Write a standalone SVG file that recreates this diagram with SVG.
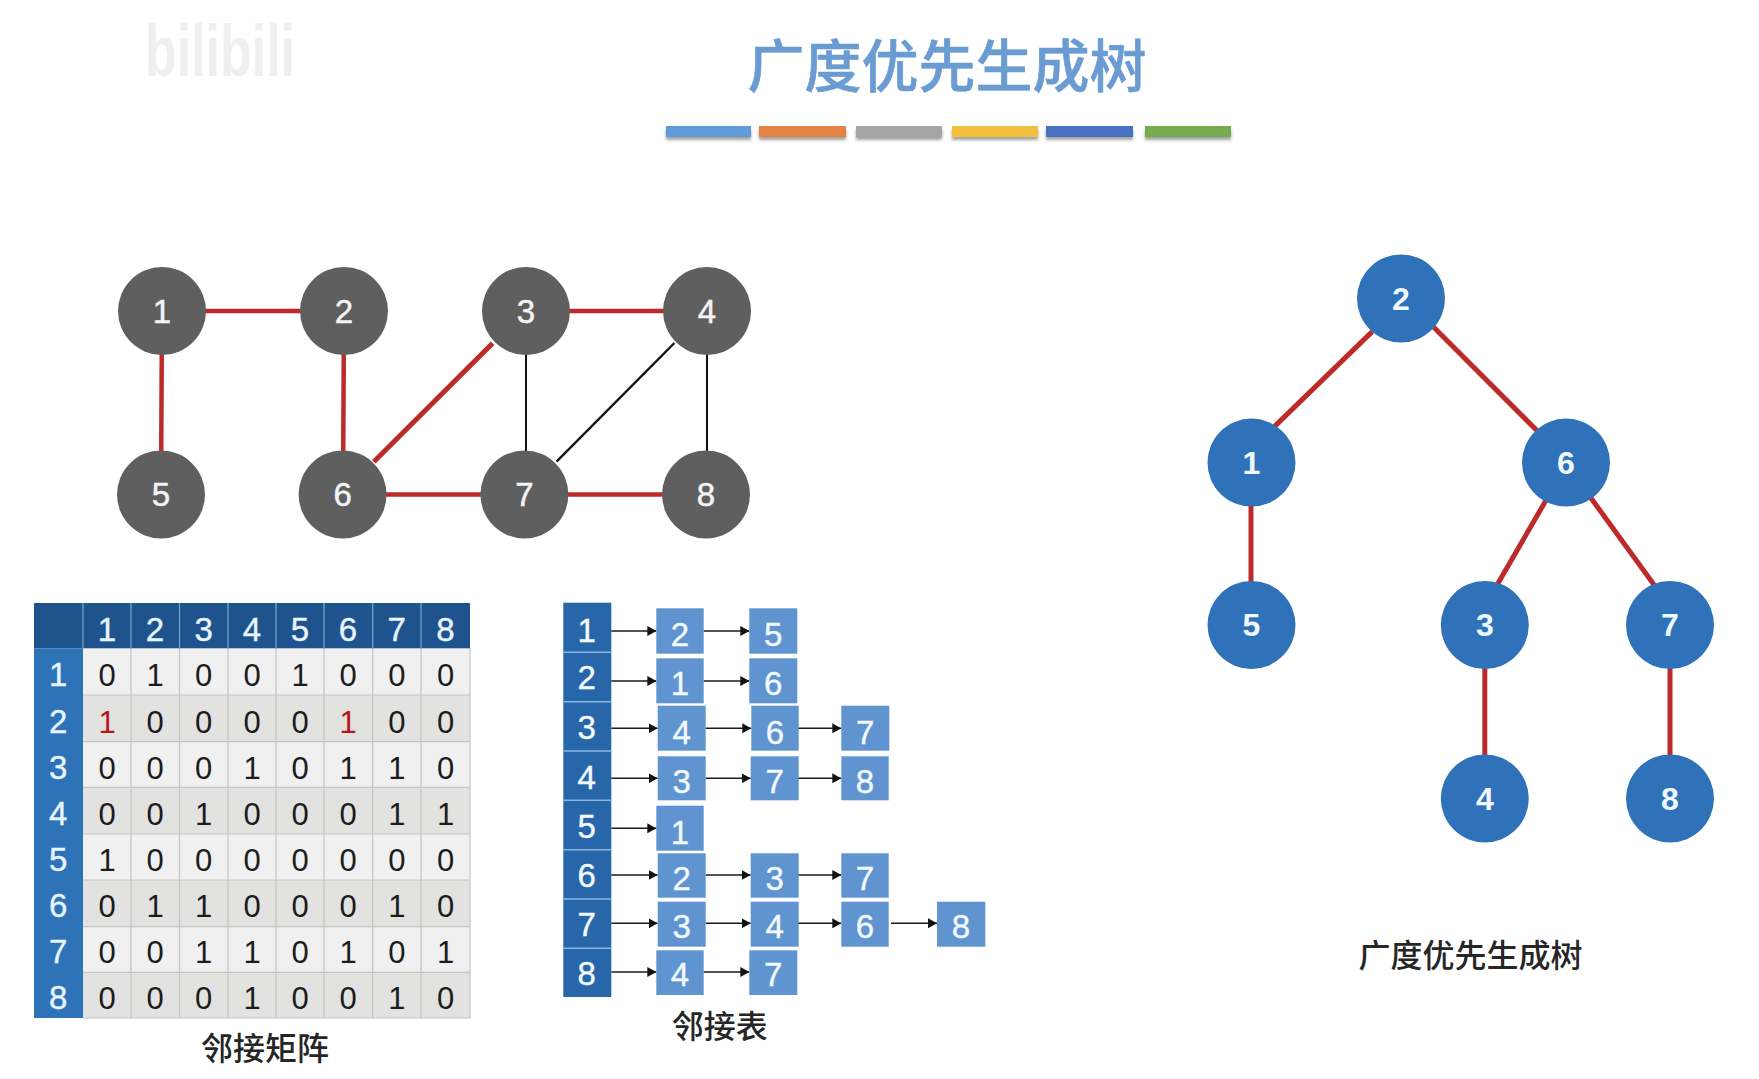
<svg xmlns="http://www.w3.org/2000/svg" width="1759" height="1079" viewBox="0 0 1759 1079">
<style>
text{font-family:"Liberation Sans",Arial,sans-serif;text-anchor:middle}
.cjk{font-family:"Noto Sans CJK SC","Liberation Sans",sans-serif;fill:#262626;font-size:32px;font-weight:500}
.title{font-family:"Noto Sans CJK SC","Liberation Sans",sans-serif;font-size:57px;font-weight:500;fill:#6a9bd2;stroke:#6a9bd2;stroke-width:.6}
.wm{font-size:72px;font-weight:700;fill:#efefef}
.red{stroke:#bd2a2a;stroke-width:4.5;fill:none}
.tr{stroke-width:5}
.blk{stroke:#111;stroke-width:2;fill:none}
.gn{fill:#5f5f60}
.tn{fill:#2f72b9}
.nl{font-size:33px;fill:#f4f4f4;stroke:#f4f4f4;stroke-width:.5}
.tl{font-size:32px;fill:#eef8ff;font-weight:700}
.bar{filter:url(#sh)}
.c{font-size:31px;fill:#1c1c1c}
.r{fill:#b5161c}
.hd{font-size:33px;fill:#e6f5ff;stroke:#e6f5ff;stroke-width:.4}
.hr{fill:#1f538d}
.lc{fill:#2e72b8}
.ro{fill:#f0f0f0}
.re{fill:#e2e2e0}
.gl{stroke:#c4c4c4;stroke-width:1.2}
.hl{stroke:#7fa6cf;stroke-width:1.2}
.ll{fill:#2766a8}
.ls{stroke:#8ab6de;stroke-width:1.5}
.bx{fill:#6094d0}
.ad{font-size:33px;fill:#f2faff;stroke:#f2faff;stroke-width:.4}
.ar{stroke:#1a1a1a;stroke-width:1.6;fill:none;marker-end:url(#ah)}
</style>
<defs>
<filter id="sh" x="-5%" y="-20%" width="110%" height="190%"><feDropShadow dx="0" dy="3" stdDeviation="1.8" flood-color="#555" flood-opacity="0.55"/></filter>
<marker id="ah" markerUnits="userSpaceOnUse" markerWidth="9" markerHeight="10" refX="9" refY="5" orient="auto"><path d="M0 0L9 5L0 10Z" fill="#111"/></marker>
</defs>
<rect width="1759" height="1079" fill="#fff"/>
<g id="watermark"><text class="wm" x="220" y="76" textLength="150" lengthAdjust="spacingAndGlyphs">bilibili</text></g>
<g id="title">
<text class="title" x="947" y="87">广度优先生成树</text>
<rect class="bar" x="666" y="126" width="85" height="11" fill="#5f9bd6"/>
<rect class="bar" x="759" y="126" width="87" height="11" fill="#e58344"/>
<rect class="bar" x="856" y="126" width="86" height="11" fill="#a5a5a5"/>
<rect class="bar" x="952" y="126" width="86" height="11" fill="#f2bf3c"/>
<rect class="bar" x="1046" y="126" width="87" height="11" fill="#4a71c2"/>
<rect class="bar" x="1145" y="126" width="86" height="11" fill="#76aa4f"/>
</g>
<g id="graph-edges">
<line class="red" x1="162" y1="311" x2="344" y2="311"/>
<line class="red" x1="526" y1="311" x2="707" y2="311"/>
<line class="red" x1="162" y1="311" x2="161" y2="494"/>
<line class="red" x1="344" y1="311" x2="343" y2="494"/>
<line class="red" x1="343" y1="494.5" x2="524" y2="494.5"/>
<line class="red" x1="524" y1="494.5" x2="706" y2="494.5"/>
<line class="red" x1="492.6" y1="343.3" x2="373.8" y2="461.7" style="stroke-width:5"/>
<line class="blk" x1="526" y1="311" x2="526" y2="494"/>
<line class="blk" x1="707" y1="311" x2="707" y2="494"/>
<line class="blk" x1="674.4" y1="343" x2="556.5" y2="461.7" style="stroke-width:2.4"/>
</g>
<g id="graph-node-1"><circle class="gn" cx="162" cy="311" r="44"/><text class="nl" x="162" y="323">1</text></g>
<g id="graph-node-2"><circle class="gn" cx="344" cy="311" r="44"/><text class="nl" x="344" y="323">2</text></g>
<g id="graph-node-3"><circle class="gn" cx="526" cy="311" r="44"/><text class="nl" x="526" y="323">3</text></g>
<g id="graph-node-4"><circle class="gn" cx="707" cy="311" r="44"/><text class="nl" x="707" y="323">4</text></g>
<g id="graph-node-5"><circle class="gn" cx="161" cy="494.5" r="44"/><text class="nl" x="161" y="506">5</text></g>
<g id="graph-node-6"><circle class="gn" cx="342.6" cy="494.5" r="44"/><text class="nl" x="342.6" y="506">6</text></g>
<g id="graph-node-7"><circle class="gn" cx="524.4" cy="494.5" r="44"/><text class="nl" x="524.4" y="506">7</text></g>
<g id="graph-node-8"><circle class="gn" cx="706" cy="494.5" r="44"/><text class="nl" x="706" y="506">8</text></g>

<g id="tree-edges">
<line class="red tr" x1="1372.2" y1="331.6" x2="1274.6" y2="426.4"/>
<line class="red tr" x1="1432" y1="325.6" x2="1537.4" y2="431"/>
<line class="red tr" x1="1251" y1="497" x2="1251" y2="625"/>
<line class="red tr" x1="1548" y1="496.8" x2="1497" y2="585.1"/>
<line class="red tr" x1="1590.8" y1="497.8" x2="1654.2" y2="585"/>
<line class="red tr" x1="1484.8" y1="625" x2="1484.8" y2="798"/>
<line class="red tr" x1="1670" y1="625" x2="1670" y2="798"/>
</g>
<g id="tree-node-2"><circle class="tn" cx="1401" cy="298.5" r="44"/><text class="tl" x="1401" y="310">2</text></g>
<g id="tree-node-1"><circle class="tn" cx="1251.5" cy="462.6" r="44"/><text class="tl" x="1251.5" y="474">1</text></g>
<g id="tree-node-6"><circle class="tn" cx="1566" cy="462.6" r="44"/><text class="tl" x="1566" y="474">6</text></g>
<g id="tree-node-5"><circle class="tn" cx="1251.5" cy="625" r="44"/><text class="tl" x="1251.5" y="636">5</text></g>
<g id="tree-node-3"><circle class="tn" cx="1484.8" cy="625" r="44"/><text class="tl" x="1484.8" y="636">3</text></g>
<g id="tree-node-7"><circle class="tn" cx="1670" cy="625" r="44"/><text class="tl" x="1670" y="636">7</text></g>
<g id="tree-node-4"><circle class="tn" cx="1484.8" cy="798.5" r="44"/><text class="tl" x="1484.8" y="810">4</text></g>
<g id="tree-node-8"><circle class="tn" cx="1670" cy="798.5" r="44"/><text class="tl" x="1670" y="810">8</text></g>
<text id="tree-label" class="cjk" x="1470.6" y="967">广度优先生成树</text>

<g id="matrix">
<rect class="ro" x="83" y="648.3" width="387" height="46.7"/>
<rect class="re" x="83" y="695" width="387" height="46.7"/>
<rect class="ro" x="83" y="741.7" width="387" height="45.6"/>
<rect class="re" x="83" y="787.3" width="387" height="46.7"/>
<rect class="ro" x="83" y="834" width="387" height="46"/>
<rect class="re" x="83" y="880" width="387" height="46.7"/>
<rect class="ro" x="83" y="926.7" width="387" height="45.6"/>
<rect class="re" x="83" y="972.3" width="387" height="45.7"/>
<path class="gl" fill="none" d="M83 695H470M83 741.7H470M83 787.3H470M83 834H470M83 880H470M83 926.7H470M83 972.3H470M83 1018H470M131 648V1018M179.5 648V1018M228 648V1018M276 648V1018M324 648V1018M372.7 648V1018M421 648V1018M470 648V1018"/>
<rect class="hr" x="34" y="603" width="436" height="45.3"/>
<rect class="lc" x="34" y="648.3" width="49" height="369.7"/>
<path class="hl" fill="none" d="M83 603V648M131 603V648M179.5 603V648M228 603V648M276 603V648M324 603V648M372.7 603V648M421 603V648"/>
<text class="hd" x="107" y="641">1</text><text class="hd" x="155" y="641">2</text><text class="hd" x="203.7" y="641">3</text><text class="hd" x="252" y="641">4</text><text class="hd" x="300" y="641">5</text><text class="hd" x="348" y="641">6</text><text class="hd" x="396.8" y="641">7</text><text class="hd" x="445.5" y="641">8</text>
<text class="hd" x="58.3" y="686">1</text><text class="hd" x="58.3" y="732.7">2</text><text class="hd" x="58.3" y="779">3</text><text class="hd" x="58.3" y="825">4</text><text class="hd" x="58.3" y="871">5</text><text class="hd" x="58.3" y="917.3">6</text><text class="hd" x="58.3" y="963.3">7</text><text class="hd" x="58.3" y="1009">8</text>
<g class="c">
<text class="c" x="107" y="686">0</text><text class="c" x="155" y="686">1</text><text class="c" x="203.7" y="686">0</text><text class="c" x="252" y="686">0</text><text class="c" x="300" y="686">1</text><text class="c" x="348" y="686">0</text><text class="c" x="396.8" y="686">0</text><text class="c" x="445.5" y="686">0</text>
<text class="c r" x="107" y="732.7">1</text><text class="c" x="155" y="732.7">0</text><text class="c" x="203.7" y="732.7">0</text><text class="c" x="252" y="732.7">0</text><text class="c" x="300" y="732.7">0</text><text class="c r" x="348" y="732.7">1</text><text class="c" x="396.8" y="732.7">0</text><text class="c" x="445.5" y="732.7">0</text>
<text class="c" x="107" y="779">0</text><text class="c" x="155" y="779">0</text><text class="c" x="203.7" y="779">0</text><text class="c" x="252" y="779">1</text><text class="c" x="300" y="779">0</text><text class="c" x="348" y="779">1</text><text class="c" x="396.8" y="779">1</text><text class="c" x="445.5" y="779">0</text>
<text class="c" x="107" y="825">0</text><text class="c" x="155" y="825">0</text><text class="c" x="203.7" y="825">1</text><text class="c" x="252" y="825">0</text><text class="c" x="300" y="825">0</text><text class="c" x="348" y="825">0</text><text class="c" x="396.8" y="825">1</text><text class="c" x="445.5" y="825">1</text>
<text class="c" x="107" y="871">1</text><text class="c" x="155" y="871">0</text><text class="c" x="203.7" y="871">0</text><text class="c" x="252" y="871">0</text><text class="c" x="300" y="871">0</text><text class="c" x="348" y="871">0</text><text class="c" x="396.8" y="871">0</text><text class="c" x="445.5" y="871">0</text>
<text class="c" x="107" y="917.3">0</text><text class="c" x="155" y="917.3">1</text><text class="c" x="203.7" y="917.3">1</text><text class="c" x="252" y="917.3">0</text><text class="c" x="300" y="917.3">0</text><text class="c" x="348" y="917.3">0</text><text class="c" x="396.8" y="917.3">1</text><text class="c" x="445.5" y="917.3">0</text>
<text class="c" x="107" y="963.3">0</text><text class="c" x="155" y="963.3">0</text><text class="c" x="203.7" y="963.3">1</text><text class="c" x="252" y="963.3">1</text><text class="c" x="300" y="963.3">0</text><text class="c" x="348" y="963.3">1</text><text class="c" x="396.8" y="963.3">0</text><text class="c" x="445.5" y="963.3">1</text>
<text class="c" x="107" y="1009">0</text><text class="c" x="155" y="1009">0</text><text class="c" x="203.7" y="1009">0</text><text class="c" x="252" y="1009">1</text><text class="c" x="300" y="1009">0</text><text class="c" x="348" y="1009">0</text><text class="c" x="396.8" y="1009">1</text><text class="c" x="445.5" y="1009">0</text>
</g>
</g>
<text id="matrix-label" class="cjk" x="265" y="1060">邻接矩阵</text>

<g id="list-connectors">
<line class="ar" x1="611.3" y1="631" x2="656.3" y2="631"/><line class="ar" x1="703.7" y1="631" x2="749.3" y2="631"/>
<line class="ar" x1="611.3" y1="681" x2="656.3" y2="681"/><line class="ar" x1="703.7" y1="681" x2="749.3" y2="681"/>
<line class="ar" x1="611.3" y1="728.3" x2="657.7" y2="728.3"/><line class="ar" x1="705.7" y1="728.3" x2="751.3" y2="728.3"/><line class="ar" x1="795" y1="728.3" x2="841.3" y2="728.3"/>
<line class="ar" x1="611.3" y1="778.3" x2="657.7" y2="778.3"/><line class="ar" x1="705.7" y1="778.3" x2="750.7" y2="778.3"/><line class="ar" x1="795" y1="778.3" x2="841.3" y2="778.3"/>
<line class="ar" x1="611.3" y1="828.3" x2="656.3" y2="828.3"/>
<line class="ar" x1="611.3" y1="875" x2="657.7" y2="875"/><line class="ar" x1="705.7" y1="875" x2="750.7" y2="875"/><line class="ar" x1="795" y1="875" x2="841.3" y2="875"/>
<line class="ar" x1="611.3" y1="923.3" x2="657.7" y2="923.3"/><line class="ar" x1="705.7" y1="923.3" x2="750.7" y2="923.3"/><line class="ar" x1="795" y1="923.3" x2="841.3" y2="923.3"/><line class="ar" x1="891" y1="923.3" x2="937" y2="923.3"/>
<line class="ar" x1="611.3" y1="972" x2="656.3" y2="972"/><line class="ar" x1="703.7" y1="972" x2="749.3" y2="972"/>
</g>
<g id="list-heads">
<rect class="ll" x="563.3" y="602.7" width="48" height="394.3"/>
<path class="ls" d="M563.3 652.3H611.3M563.3 701.7H611.3M563.3 751H611.3M563.3 800.3H611.3M563.3 849.7H611.3M563.3 899H611.3M563.3 948.3H611.3"/>
<text class="ad" x="586.7" y="641.7">1</text><text class="ad" x="586.7" y="689.3">2</text><text class="ad" x="586.7" y="739.3">3</text><text class="ad" x="586.7" y="789">4</text><text class="ad" x="586.7" y="838.3">5</text><text class="ad" x="586.7" y="886.7">6</text><text class="ad" x="586.7" y="936">7</text><text class="ad" x="586.7" y="985">8</text>
</g>
<g id="list-row-1"><rect class="bx" x="656.3" y="608.3" width="47.4" height="45.4"/><text class="ad" x="680" y="646">2</text><rect class="bx" x="749.3" y="608.3" width="48" height="45.4"/><text class="ad" x="773.3" y="646">5</text></g>
<g id="list-row-2"><rect class="bx" x="656.3" y="658.3" width="47.4" height="45"/><text class="ad" x="680" y="695">1</text><rect class="bx" x="749.3" y="658.3" width="48" height="45"/><text class="ad" x="773.3" y="695">6</text></g>
<g id="list-row-3"><rect class="bx" x="657.7" y="705.7" width="48" height="45"/><text class="ad" x="681.7" y="744">4</text><rect class="bx" x="751.3" y="705.7" width="47.4" height="45"/><text class="ad" x="775" y="744">6</text><rect class="bx" x="841.3" y="705.7" width="48" height="45"/><text class="ad" x="865.3" y="744">7</text></g>
<g id="list-row-4"><rect class="bx" x="657.7" y="756.3" width="48" height="44"/><text class="ad" x="681.7" y="793">3</text><rect class="bx" x="750.7" y="756.3" width="48" height="44"/><text class="ad" x="774.7" y="793">7</text><rect class="bx" x="841.3" y="756.3" width="47.4" height="44"/><text class="ad" x="865" y="793">8</text></g>
<g id="list-row-5"><rect class="bx" x="656.3" y="805.7" width="47.4" height="45"/><text class="ad" x="680" y="844">1</text></g>
<g id="list-row-6"><rect class="bx" x="657.7" y="853.3" width="48" height="44.4"/><text class="ad" x="681.7" y="890">2</text><rect class="bx" x="750.7" y="853.3" width="48" height="44.4"/><text class="ad" x="774.7" y="890">3</text><rect class="bx" x="841.3" y="853.3" width="47.4" height="44.4"/><text class="ad" x="865" y="890">7</text></g>
<g id="list-row-7"><rect class="bx" x="657.7" y="901.7" width="48" height="45"/><text class="ad" x="681.7" y="937.7">3</text><rect class="bx" x="750.7" y="901.7" width="48" height="45"/><text class="ad" x="774.7" y="937.7">4</text><rect class="bx" x="841.3" y="901.7" width="47.4" height="45"/><text class="ad" x="865" y="937.7">6</text><rect class="bx" x="937" y="901.7" width="48.3" height="45"/><text class="ad" x="961" y="937.7">8</text></g>
<g id="list-row-8"><rect class="bx" x="656.3" y="950.3" width="47.4" height="44.7"/><text class="ad" x="680" y="986">4</text><rect class="bx" x="749.3" y="950.3" width="48" height="44.7"/><text class="ad" x="773.3" y="986">7</text></g>
<text id="list-label" class="cjk" x="719.7" y="1038">邻接表</text>
</svg>
